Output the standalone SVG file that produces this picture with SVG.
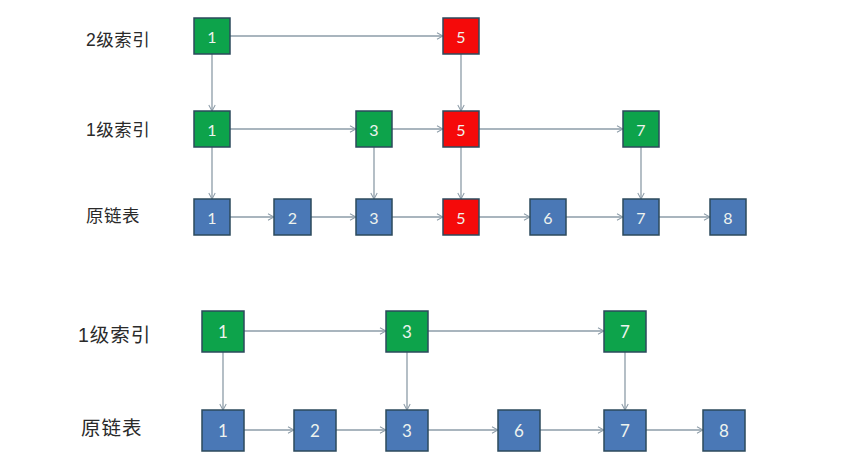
<svg xmlns="http://www.w3.org/2000/svg" width="858" height="472" viewBox="0 0 858 472">
<style>
.g{fill:#0da34b}
.r{fill:#f50a0a}
.b{fill:#4a78b6}
.box{stroke:#2c4a5c;stroke-width:1.5}
.n{font-family:Lato,"Open Sans","Liberation Sans",sans-serif;fill:#eef3ee;text-anchor:middle;dominant-baseline:central}
.n1{font-size:16px}
.n2{font-size:17px}
.lb{font-family:"Liberation Sans","Noto Sans CJK SC",sans-serif;fill:#2a2a2a;font-size:17.5px;letter-spacing:0.5px;dominant-baseline:central}
.lb2{font-size:19.5px;letter-spacing:1px}
.c{stroke:#8d9ca8;stroke-width:1.3;fill:none;marker-end:url(#ah)}
</style>
<defs>
<marker id="ah" viewBox="0 0 10 10" refX="9.5" refY="5" markerWidth="8" markerHeight="8" markerUnits="userSpaceOnUse" orient="auto">
<polyline points="2,1 9.5,5 2,9" fill="none" stroke="#8d9ca8" stroke-width="1.3"/>
</marker>
</defs>
<rect width="858" height="472" fill="#ffffff"/>
<g id="labels">
<text class="lb" x="86" y="40">2级索引</text>
<text class="lb" x="86" y="130">1级索引</text>
<text class="lb" x="86" y="216">原链表</text>
<text class="lb lb2" x="78" y="335">1级索引</text>
<text class="lb lb2" x="81" y="428">原链表</text>
</g>
<g id="connectors">
<line class="c" x1="230" y1="36" x2="443" y2="36"/>
<line class="c" x1="212" y1="54" x2="212" y2="111"/>
<line class="c" x1="461" y1="54" x2="461" y2="111"/>
<line class="c" x1="230" y1="129" x2="356" y2="129"/>
<line class="c" x1="392" y1="129" x2="443" y2="129"/>
<line class="c" x1="479" y1="129" x2="623" y2="129"/>
<line class="c" x1="212" y1="147" x2="212" y2="199"/>
<line class="c" x1="374" y1="147" x2="374" y2="199"/>
<line class="c" x1="461" y1="147" x2="461" y2="199"/>
<line class="c" x1="641" y1="147" x2="641" y2="199"/>
<line class="c" x1="230" y1="217" x2="274" y2="217"/>
<line class="c" x1="311" y1="217" x2="356" y2="217"/>
<line class="c" x1="392" y1="217" x2="443" y2="217"/>
<line class="c" x1="479" y1="217" x2="530" y2="217"/>
<line class="c" x1="566" y1="217" x2="623" y2="217"/>
<line class="c" x1="659" y1="217" x2="710" y2="217"/>
<line class="c" x1="244" y1="331" x2="386" y2="331"/>
<line class="c" x1="428" y1="331" x2="604" y2="331"/>
<line class="c" x1="223" y1="352" x2="223" y2="410"/>
<line class="c" x1="407" y1="352" x2="407" y2="410"/>
<line class="c" x1="625" y1="352" x2="625" y2="410"/>
<line class="c" x1="244" y1="430" x2="294" y2="430"/>
<line class="c" x1="336" y1="430" x2="386" y2="430"/>
<line class="c" x1="428" y1="430" x2="498" y2="430"/>
<line class="c" x1="540" y1="430" x2="604" y2="430"/>
<line class="c" x1="646" y1="430" x2="703" y2="430"/>
</g>
<g id="t_l2_1"><rect class="g box" x="194" y="18" width="36" height="36"/><text class="n n1" x="212" y="36">1</text></g>
<g id="t_l2_5"><rect class="r box" x="443" y="18" width="36" height="36"/><text class="n n1" x="461" y="36">5</text></g>
<g id="t_l1_1"><rect class="g box" x="194" y="111" width="36" height="36"/><text class="n n1" x="212" y="129">1</text></g>
<g id="t_l1_3"><rect class="g box" x="356" y="111" width="36" height="36"/><text class="n n1" x="374" y="129">3</text></g>
<g id="t_l1_5"><rect class="r box" x="443" y="111" width="36" height="36"/><text class="n n1" x="461" y="129">5</text></g>
<g id="t_l1_7"><rect class="g box" x="623" y="111" width="36" height="36"/><text class="n n1" x="641" y="129">7</text></g>
<g id="t_b_1"><rect class="b box" x="194" y="199" width="36" height="36"/><text class="n n1" x="212" y="217">1</text></g>
<g id="t_b_2"><rect class="b box" x="274" y="199" width="37" height="36"/><text class="n n1" x="292.5" y="217">2</text></g>
<g id="t_b_3"><rect class="b box" x="356" y="199" width="36" height="36"/><text class="n n1" x="374" y="217">3</text></g>
<g id="t_b_5"><rect class="r box" x="443" y="199" width="36" height="36"/><text class="n n1" x="461" y="217">5</text></g>
<g id="t_b_6"><rect class="b box" x="530" y="199" width="36" height="36"/><text class="n n1" x="548" y="217">6</text></g>
<g id="t_b_7"><rect class="b box" x="623" y="199" width="36" height="36"/><text class="n n1" x="641" y="217">7</text></g>
<g id="t_b_8"><rect class="b box" x="710" y="199" width="36" height="36"/><text class="n n1" x="728" y="217">8</text></g>
<g id="u_l1_1"><rect class="g box" x="202" y="311" width="42" height="41"/><text class="n n2" x="223" y="331.5">1</text></g>
<g id="u_l1_3"><rect class="g box" x="386" y="311" width="42" height="41"/><text class="n n2" x="407" y="331.5">3</text></g>
<g id="u_l1_7"><rect class="g box" x="604" y="311" width="42" height="41"/><text class="n n2" x="625" y="331.5">7</text></g>
<g id="u_b_1"><rect class="b box" x="202" y="410" width="42" height="41"/><text class="n n2" x="223" y="430.5">1</text></g>
<g id="u_b_2"><rect class="b box" x="294" y="410" width="42" height="41"/><text class="n n2" x="315" y="430.5">2</text></g>
<g id="u_b_3"><rect class="b box" x="386" y="410" width="42" height="41"/><text class="n n2" x="407" y="430.5">3</text></g>
<g id="u_b_6"><rect class="b box" x="498" y="410" width="42" height="41"/><text class="n n2" x="519" y="430.5">6</text></g>
<g id="u_b_7"><rect class="b box" x="604" y="410" width="42" height="41"/><text class="n n2" x="625" y="430.5">7</text></g>
<g id="u_b_8"><rect class="b box" x="703" y="410" width="42" height="41"/><text class="n n2" x="724" y="430.5">8</text></g>
</svg>
